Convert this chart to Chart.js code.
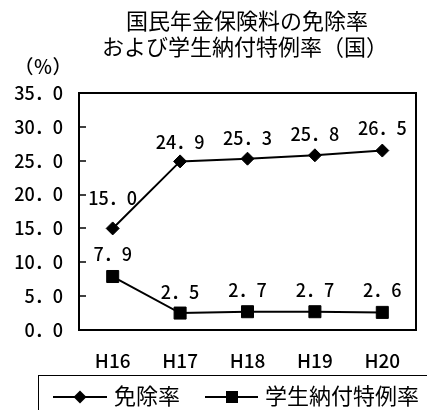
<!DOCTYPE html>
<html>
<head>
<meta charset="utf-8">
<script src="https://cdn.jsdelivr.net/npm/chart.js@4/dist/chart.umd.min.js"></script>
<style>
  html, body { margin: 0; padding: 0; background: #fff; }
  #wrap { width: 427px; height: 410px; position: relative; }
</style>
</head>
<body>
<div id="wrap"><canvas id="chart" width="427" height="410"></canvas></div>
<script>
const years = ['H16', 'H17', 'H18', 'H19', 'H20'];
const exemptRate = [15.0, 24.9, 25.3, 25.8, 26.5];
const studentRate = [7.9, 2.5, 2.7, 2.7, 2.6];
const titleLines = ['国民年金保険料の免除率', 'および学生納付特例率（国）'];
const unitLabel = '（％）';

const JP = '"Noto Sans CJK JP", sans-serif';

function fmt(v) {
  return v.toFixed(1).replace('.', '．');
}

function diamond(ctx, x, y, r) {
  ctx.beginPath();
  ctx.moveTo(x, y - r);
  ctx.lineTo(x + r, y);
  ctx.lineTo(x, y + r);
  ctx.lineTo(x - r, y);
  ctx.closePath();
  ctx.fill();
}

const decor = {
  id: 'decor',
  beforeDraw(chart) {
    const ctx = chart.ctx;
    ctx.save();
    ctx.fillStyle = '#fff';
    ctx.fillRect(0, 0, chart.width, chart.height);
    ctx.restore();
  },
  afterDraw(chart) {
    const ctx = chart.ctx;
    const a = chart.chartArea;
    const y = chart.scales.y;
    ctx.save();
    ctx.strokeStyle = '#000';
    ctx.fillStyle = '#000';

    // plot box
    ctx.lineWidth = 2;
    ctx.strokeRect(a.left, a.top, a.right - a.left, a.bottom - a.top);
    // inner ticks on the y axis
    y.ticks.forEach(t => {
      const py = Math.round(y.getPixelForValue(t.value));
      ctx.beginPath();
      ctx.moveTo(a.left, py);
      ctx.lineTo(a.left + 7, py);
      ctx.lineWidth = 1.5;
      ctx.stroke();
    });

    // title
    ctx.textAlign = 'center';
    ctx.textBaseline = 'middle';
    ctx.font = '22px ' + JP;
    ctx.fillText(titleLines[0], 247, 21);
    ctx.fillText(titleLines[1], 245, 47);
    ctx.font = '500 19px ' + JP;
    ctx.fillText(unitLabel, 43, 67);

    // value labels
    ctx.font = '500 18px ' + JP;
    chart.data.datasets.forEach((ds, i) => {
      const meta = chart.getDatasetMeta(i);
      meta.data.forEach((pt, j) => {
        const lift = ds.labelLift ? ds.labelLift[j] : 22;
        ctx.fillText(fmt(ds.data[j]), pt.x, pt.y - lift);
      });
    });

    // legend
    ctx.lineWidth = 1;
    ctx.strokeRect(38.5, 375.5, 420, 60);
    ctx.lineWidth = 2;
    ctx.beginPath();
    ctx.moveTo(53, 397); ctx.lineTo(107, 397);
    ctx.moveTo(205, 397); ctx.lineTo(258, 397);
    ctx.stroke();
    diamond(ctx, 80, 397, 6.5);
    ctx.fillRect(226, 391, 12, 12);
    ctx.textAlign = 'left';
    ctx.font = '22px ' + JP;
    ctx.fillText(chart.data.datasets[0].label, 114, 396);
    ctx.fillText(chart.data.datasets[1].label, 265, 396);
    ctx.restore();
  }
};

new Chart(document.getElementById('chart'), {
  type: 'line',
  data: {
    labels: years,
    datasets: [
      {
        label: '免除率',
        data: exemptRate,
        borderColor: '#000',
        backgroundColor: '#000',
        borderWidth: 2,
        pointStyle: 'rectRot',
        pointRadius: 6.5,
        pointBorderWidth: 1,
        tension: 0,
        labelLift: [30, 19, 21, 21, 22]
      },
      {
        label: '学生納付特例率',
        data: studentRate,
        borderColor: '#000',
        backgroundColor: '#000',
        borderWidth: 2,
        pointStyle: 'rect',
        pointRadius: 8.5,
        pointBorderWidth: 1,
        tension: 0,
        labelLift: [22, 21, 22, 22, 22]
      }
    ]
  },
  options: {
    responsive: false,
    animation: false,
    layout: { padding: { left: 0, right: 11, top: 93, bottom: 35 } },
    plugins: {
      legend: { display: false },
      title: { display: false },
      tooltip: { enabled: false }
    },
    scales: {
      x: {
        offset: true,
        grid: { display: false, drawTicks: false },
        border: { display: false },
        ticks: { color: '#000', padding: 19, font: { family: JP, size: 19, weight: '500' } },
        afterFit(scale) { scale.height = 45; }
      },
      y: {
        min: 0,
        max: 35,
        grid: { display: false, drawTicks: false },
        border: { display: false },
        ticks: {
          stepSize: 5,
          color: '#000',
          padding: 16,
          font: { family: JP, size: 18, weight: '500' },
          callback: v => fmt(v)
        },
        afterFit(scale) { scale.width = 79; }
      }
    }
  },
  plugins: [decor]
});
</script>
</body>
</html>
